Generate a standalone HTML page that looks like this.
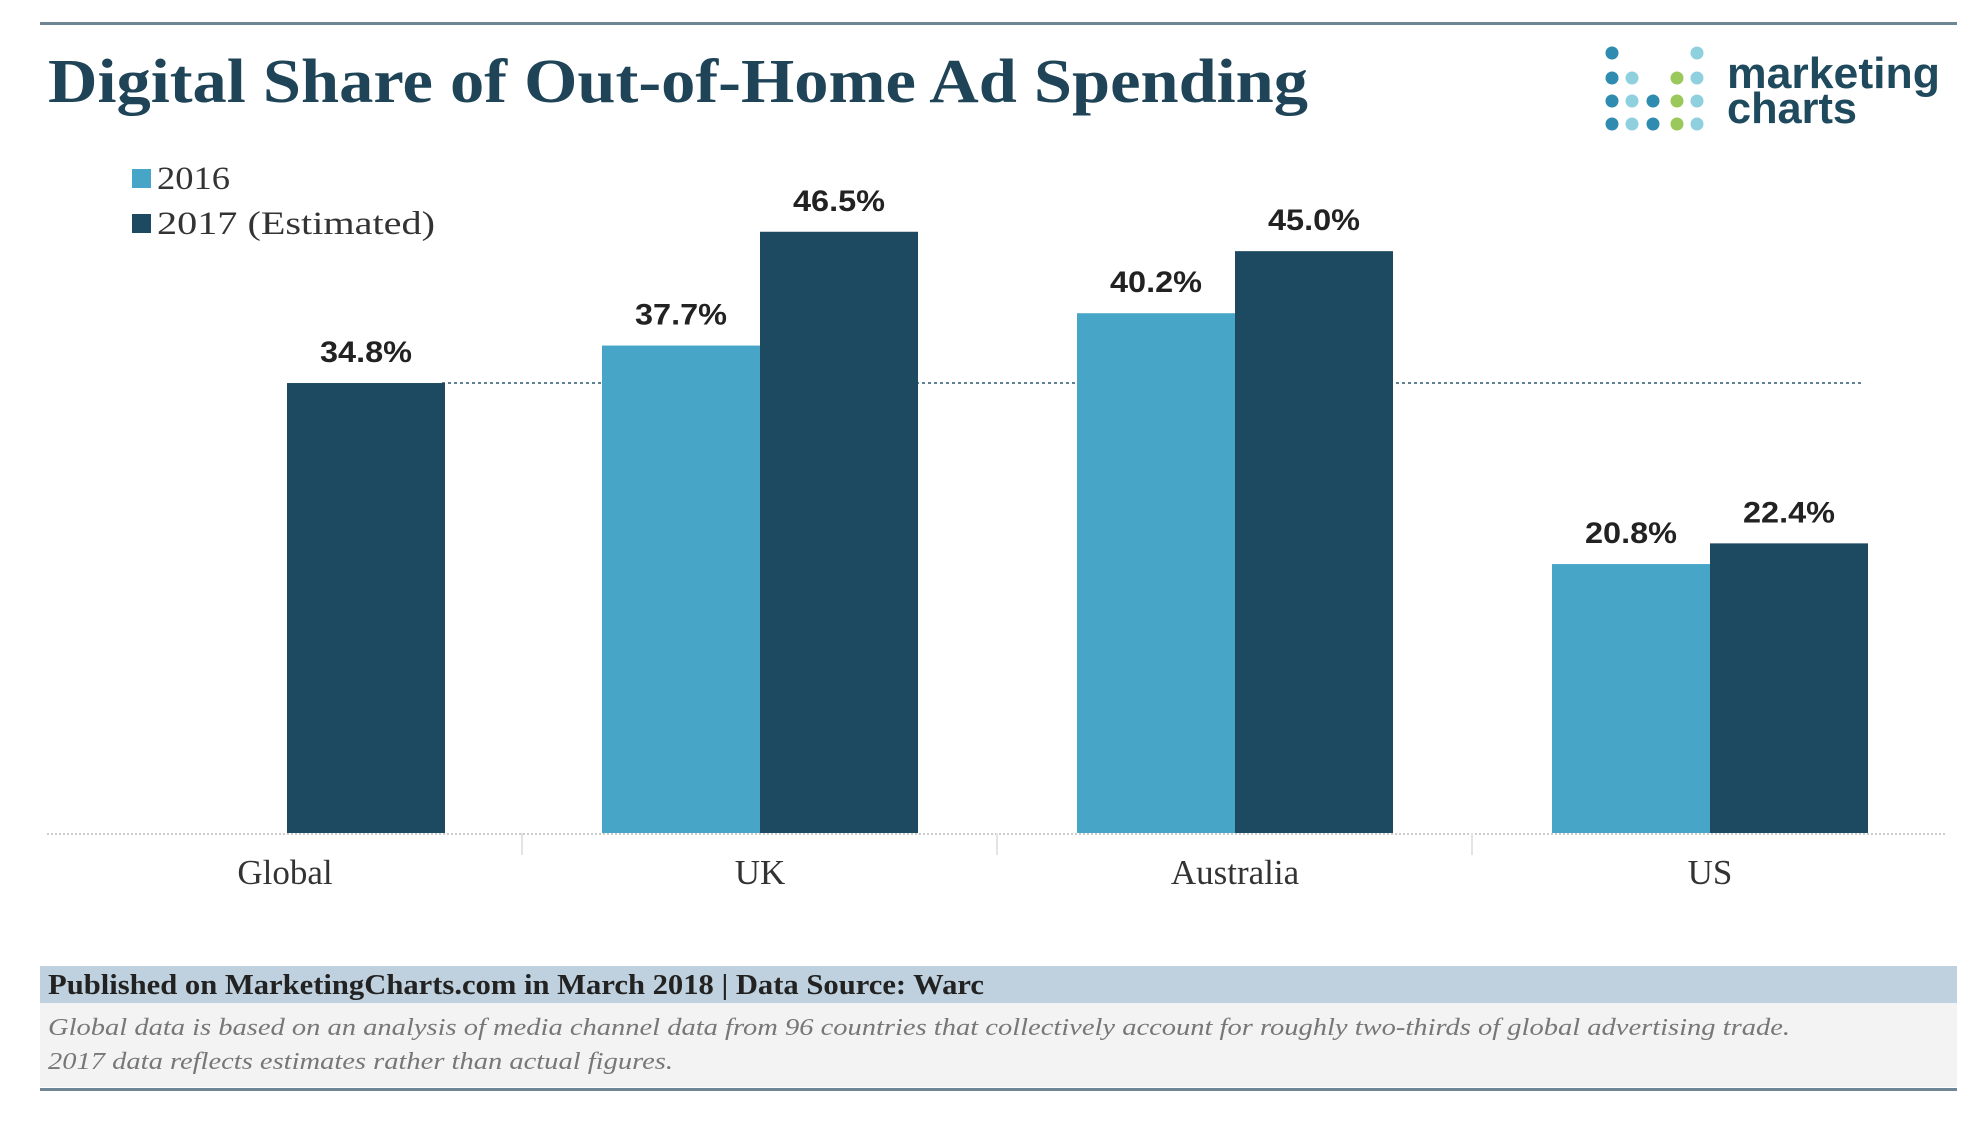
<!DOCTYPE html>
<html><head><meta charset="utf-8"><style>
html,body{margin:0;padding:0;background:#fff;}
svg{display:block;}
</style></head><body>
<svg id="chart" width="1982" height="1126" viewBox="0 0 1982 1126" xmlns="http://www.w3.org/2000/svg">
<rect x="0" y="0" width="1982" height="1126" fill="#fff"/>
<rect x="40" y="22" width="1917" height="3" fill="#6f8794"/>
<text x="48" y="102" font-family="Liberation Serif, serif" font-weight="bold" font-size="62" fill="#1f4457" textLength="1260" lengthAdjust="spacingAndGlyphs">Digital Share of Out-of-Home Ad Spending</text>
<g id="logo"></g>
<text x="1727" y="88" font-family="Liberation Sans, sans-serif" font-weight="bold" font-size="44" fill="#1f4a5e" textLength="213" lengthAdjust="spacingAndGlyphs">marketing</text>
<text x="1727" y="123" font-family="Liberation Sans, sans-serif" font-weight="bold" font-size="44" fill="#1f4a5e" textLength="130" lengthAdjust="spacingAndGlyphs">charts</text>
<g>
<rect x="132" y="169" width="19" height="19" fill="#47a6c8"/>
<text x="157" y="189" font-family="Liberation Serif, serif" font-size="33" fill="#333" textLength="73" lengthAdjust="spacingAndGlyphs">2016</text>
<rect x="132" y="214" width="19" height="19" fill="#1d4a61"/>
<text x="157" y="234" font-family="Liberation Serif, serif" font-size="33" fill="#333" textLength="278" lengthAdjust="spacingAndGlyphs">2017 (Estimated)</text>
</g>
<g id="plot"></g>
<rect x="40" y="966" width="1917" height="37" fill="#bfd1de"/>
<text x="48" y="994" font-family="Liberation Serif, serif" font-weight="bold" font-size="28" fill="#222" textLength="936" lengthAdjust="spacingAndGlyphs">Published on MarketingCharts.com in March 2018 | Data Source: Warc</text>
<rect x="40" y="1003" width="1917" height="84" fill="#f3f3f3"/>
<text x="48" y="1035" font-family="Liberation Serif, serif" font-style="italic" font-size="24" fill="#777" textLength="1742" lengthAdjust="spacingAndGlyphs">Global data is based on an analysis of media channel data from 96 countries that collectively account for roughly two-thirds of global advertising trade.</text>
<text x="48" y="1069" font-family="Liberation Serif, serif" font-style="italic" font-size="24" fill="#777" textLength="625" lengthAdjust="spacingAndGlyphs">2017 data reflects estimates rather than actual figures.</text>
<rect x="40" y="1088" width="1917" height="3" fill="#6f8794"/>
</svg>
<script>
const categories = ["Global","UK","Australia","US"];
const values2016 = [null,37.7,40.2,20.8];
const values2017 = [34.8,46.5,45.0,22.4];
const globalRef = 34.8;

const NS="http://www.w3.org/2000/svg";
const plot=document.getElementById('plot');
const baseY=833, pxPer=12.93;
const yScale=v=>baseY-v*pxPer;
const groupLeft=47, groupW=475;
const barW=158;
const xCenter=i=>groupLeft+groupW*i+238;
function mk(tag,attrs){const e=document.createElementNS(NS,tag);for(const k in attrs)e.setAttribute(k,attrs[k]);return e;}

// axis
const axis=mk('line',{x1:47,x2:1947,y1:baseY+1,y2:baseY+1,stroke:'#ccc','stroke-width':2,'stroke-dasharray':'2,2'});


plot.appendChild(axis);
for(let i=1;i<categories.length;i++){
  const t=mk('line',{x1:groupLeft+groupW*i,x2:groupLeft+groupW*i,y1:baseY,y2:baseY+22,stroke:'#e4e4e4','stroke-width':2});
  
  
  plot.appendChild(t);
}
function label(x,y,txt,name){
  const t=mk('text',{x:x,y:y,'text-anchor':'middle','font-family':'Liberation Sans, sans-serif','font-weight':'bold','font-size':30,fill:'#222',textLength:92,lengthAdjust:'spacingAndGlyphs'});
  t.textContent=txt;
  
  
  plot.appendChild(t);
}
function bar(x,v,color,name){
  const r=mk('rect',{x:x,y:yScale(v),width:barW,height:baseY-yScale(v),fill:color});
  
  
  plot.appendChild(r);
  label(x+barW/2,yScale(v)-21,v.toFixed(1)+'%',name+'-label');
}
categories.forEach((c,i)=>{
  const cx=xCenter(i);
  const key=c.toLowerCase();
  if(values2016[i]==null){
    bar(cx-barW/2+125-125+ (287-(cx-barW/2)),values2017[i],'#1d4a61','bar-'+key+'-2017');
  } else {
    bar(cx-barW,values2016[i],'#47a6c8','bar-'+key+'-2016');
    bar(cx,values2017[i],'#1d4a61','bar-'+key+'-2017');
  }
  const t=mk('text',{x:i==0?285:cx,y:884,'text-anchor':'middle','font-family':'Liberation Serif, serif','font-size':35,fill:'#333'});
  t.textContent=c;
  
  
  plot.appendChild(t);
});
// global reference dashed line
const ref=mk('line',{x1:442,x2:1861,y1:yScale(globalRef),y2:yScale(globalRef),stroke:'#2a5a70','stroke-width':1.5,'stroke-dasharray':'3,3'});


plot.insertBefore(ref,plot.firstChild);

// logo dots
const logo=document.getElementById('logo');
const dotCols=[1612,1632,1653,1677,1697], dotRows=[53,78,101,124];
const dotPattern=[[0,'#2f8bb0'],[1,'#8fd0df'],[2,'#2f8bb0'],[3,'#9ac85a'],[4,'#8fd0df']];
const colStart=[0,1,2,1,0];
dotPattern.forEach(([c,col])=>{
  for(let r=colStart[c];r<4;r++){
    const d=mk('circle',{cx:dotCols[c],cy:dotRows[r],r:6.5,fill:col});
    
    
    logo.appendChild(d);
  }
});
</script>
</body></html>
